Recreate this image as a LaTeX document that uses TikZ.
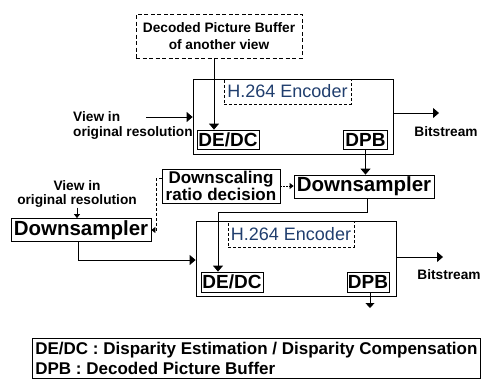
\documentclass[tikz,border=0pt]{standalone}
\usepackage{fontspec}
\setmainfont{Liberation Sans}
\usetikzlibrary{arrows.meta,positioning}

\definecolor{encblue}{RGB}{32,62,110}
\newcommand{\fsz}[2]{\fontsize{#1}{#2}\selectfont}

\begin{document}
\begin{tikzpicture}[
  x=1pt, y=-1pt,
  encoder/.style={draw, line width=.8pt, minimum width=200pt, minimum height=75pt},
  title/.style={draw, densely dashed, line width=.7pt, inner sep=0pt, minimum width=127pt, minimum height=25pt, text=encblue, font=\fsz{18}{20}},
  unit/.style={draw, line width=.8pt, inner sep=1pt, minimum width=44pt, minimum height=19pt, font=\fsz{19}{19}\bfseries},
  sampler/.style={draw, line width=.8pt, inner sep=1pt, minimum width=140pt, minimum height=23pt, font=\fsz{20.5}{21}\bfseries},
  note/.style={inner sep=0pt, font=\fsz{13.7}{15.5}\bfseries},
  arrow/.style={-{Triangle[width=10pt,length=6pt]}, line width=.8pt},
  tip/.style={-{Triangle[width=6pt,length=4pt]}, line width=.8pt}
]
\useasboundingbox (0,0) rectangle (481,378);
\clip (0,0) rectangle (481,378);

\node[draw, dash pattern=on 4pt off 2.5pt, line width=.7pt, align=center, minimum width=166pt, minimum height=44pt, font=\fsz{13.7}{17}\bfseries] (otherdpb) at (219,36) {Decoded Picture Buffer\\of another view};

\node[encoder] (enc1) at (293,116.5) {};
\node[title] (h264a) at (287.5,91.5) {H.264 Encoder};
\node[unit, minimum width=62pt] (dedc1) at (228,139.5) {DE/DC};
\node[unit] (dpb1) at (365.5,139.5) {DPB};
\node[note, align=left, anchor=north west] (view1) at (73,111) {View in\\original resolution};
\coordinate (in1) at (146,117);
\coordinate (out1) at (439,113);
\node[note] (bs1) at (446,132) {Bitstream};

\node[sampler] (ds2) at (364,186.5) {Downsampler};
\node[draw, line width=.8pt, align=center, inner sep=0pt, minimum width=118pt, minimum height=34pt, font=\fsz{17}{14.5}\bfseries] (decision) at (221,186) {Downscaling\\ratio decision};
\node[note, align=center, font=\fsz{13.7}{14}\bfseries] (view2) at (77,194) {View in\\original resolution};
\node[sampler] (ds1) at (81,230) {Downsampler};

\node[encoder] (enc2) at (296,258.5) {};
\node[title, minimum width=126pt, minimum height=26pt] (h264b) at (291,234) {H.264 Encoder};
\node[unit, minimum width=62pt, minimum height=20pt] (dedc2) at (232,282) {DE/DC};
\node[unit, minimum width=42pt, minimum height=20pt] (dpb2) at (368,282) {DPB};
\coordinate (out2) at (443,257);
\coordinate (down2) at (370,308);
\node[note] (bs2) at (449,275) {Bitstream};

\node[draw, line width=.8pt, align=left, anchor=north west, inner xsep=2pt, inner ysep=3.5pt, minimum width=448pt, font=\fsz{17}{20.5}\bfseries] (legend) at (32,338)
  {DE/DC : Disparity Estimation / Disparity Compensation\\DPB : Decoded Picture Buffer};

\draw[arrow] ([xshift=-5pt]otherdpb.south) -- ([xshift=-5pt]otherdpb.south |- dedc1.north);
\draw[arrow] (in1) -- (in1 -| enc1.west);
\draw[arrow] ([yshift=3.5pt]enc1.east) -- (out1);
\draw[arrow] (dpb1.south) -- (dpb1.south |- ds2.north);
\draw[tip, dash pattern=on 1.5pt off 1.5pt] (decision.east) -- (decision.east -| ds2.west);
\draw[tip, densely dashed] ([yshift=8pt]decision.west) -- ++(-5,0) |- (ds1.east);
\draw[tip] (view2.south) -- (view2.south |- ds1.north);
\draw[arrow] ([xshift=3pt]ds2.south) -- ++(0,14) -| ([xshift=-14pt]dedc2.north);
\draw[arrow] ([xshift=-3pt]ds1.south) |- ([yshift=-1.5pt]enc2.west);
\draw[arrow] ([yshift=1.5pt]enc2.east) -- (out2);
\draw[tip, -{Triangle[width=9pt,length=5pt]}] ([xshift=2pt]dpb2.south) -- (down2);

\end{tikzpicture}
\end{document}
